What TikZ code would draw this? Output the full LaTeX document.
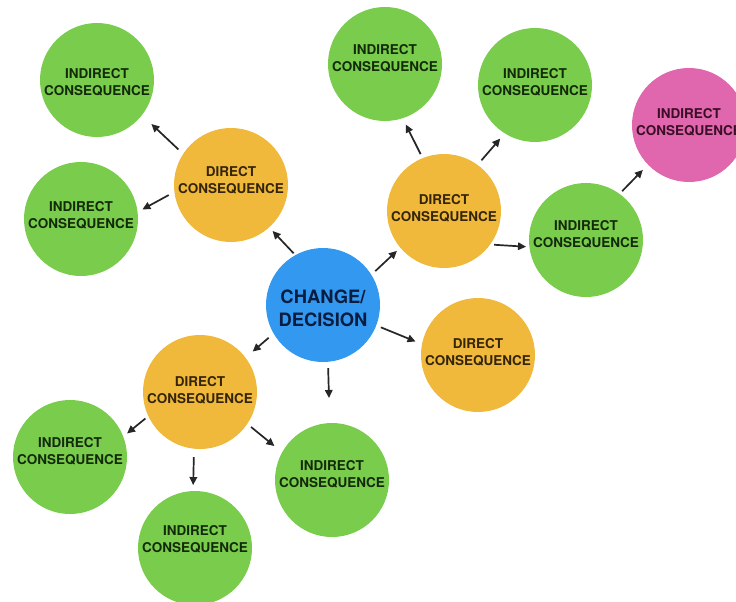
\documentclass[tikz,border=0pt]{standalone}
\usepackage{fontspec}
\newfontfamily\hv{TeX Gyre Heros}
\usetikzlibrary{arrows.meta}
\definecolor{cgreen}{HTML}{7ACC4C}
\definecolor{corange}{HTML}{F0B93B}
\definecolor{cblue}{HTML}{3399F0}
\definecolor{cpink}{HTML}{E066AE}
\definecolor{tgreen}{HTML}{132A0A}
\definecolor{torange}{HTML}{33240A}
\definecolor{tblue}{HTML}{0A1C40}
\definecolor{tpink}{HTML}{3A0F25}
\begin{document}
\begin{tikzpicture}[x=1pt,y=-1pt,
  bubble/.style={circle, minimum size=114pt, inner sep=0pt, outer sep=0pt},
  ind/.style={bubble, fill=cgreen},
  dir/.style={bubble, fill=corange},
  hub/.style={bubble, fill=cblue},
  pnk/.style={bubble, fill=cpink},
  lbl/.style={font=\hv\bfseries\fontsize{13.5}{17}\selectfont, align=center, inner sep=0pt},
  indl/.style={lbl, text=tgreen},
  dirl/.style={lbl, text=torange},
  pnkl/.style={lbl, text=tpink},
  hubl/.style={font=\hv\bfseries\fontsize{18.4}{23}\selectfont, align=center, inner sep=0pt, text=tblue},
  arr/.style={-{Triangle[length=8pt,width=7.5pt]}, line width=1.7pt, draw=black!85}
]
\useasboundingbox (0,0) rectangle (736,602);
\clip (0,0) rectangle (736,602);
\fill[white] (0,0) rectangle (736,602);

% circles
\node[hub] (c)   at (323,305) {};
\node[dir] (dl)  at (231,185) {};
\node[dir] (drt) at (444,211) {};
\node[dir] (dr)  at (478,355) {};
\node[dir] (dbl) at (200,392) {};
\node[ind] (itl) at (97,80)   {};
\node[ind] (il)  at (81,219)  {};
\node[ind] (itm) at (385,64)  {};
\node[ind] (itr) at (535,85)  {};
\node[pnk] (pk)  at (689,125) {};
\node[ind] (ir)  at (586,240) {};
\node[ind] (ibl) at (70,457)  {};
\node[ind] (ib)  at (195,548) {};
\node[ind] (ibr) at (332,480) {};

% texts
\node[hubl] (ct)   at (323,308) {CHANGE/\\DECISION};
\node[dirl] (dlt)  at (231,180) {DIRECT\\CONSEQUENCE};
\node[dirl] (drtt) at (444,208) {DIRECT\\CONSEQUENCE};
\node[dirl] (drt2) at (478,352) {DIRECT\\CONSEQUENCE};
\node[dirl] (dblt) at (200,390) {DIRECT\\CONSEQUENCE};
\node[indl] (itlt) at (97,82)   {INDIRECT\\CONSEQUENCE};
\node[indl] (ilt)  at (81,215)  {INDIRECT\\CONSEQUENCE};
\node[indl] (itmt) at (385,58)  {INDIRECT\\CONSEQUENCE};
\node[indl] (itrt) at (535,82)  {INDIRECT\\CONSEQUENCE};
\node[pnkl] (pkt)  at (689,122) {INDIRECT\\CONSEQUENCE};
\node[indl] (irt)  at (586,234) {INDIRECT\\CONSEQUENCE};
\node[indl] (iblt) at (70,451)  {INDIRECT\\CONSEQUENCE};
\node[indl] (ibt)  at (195,539) {INDIRECT\\CONSEQUENCE};
\node[indl] (ibrt) at (332,474) {INDIRECT\\CONSEQUENCE};

% connectors
\draw[arr, shorten <=2.5pt, shorten >=5pt] (c.119) -- (dl.-48);
\draw[arr, shorten <=6.5pt, shorten >=13pt] (dl.147) -- (itl.-38);
\draw[arr, shorten <=6.5pt, shorten >=5.5pt] (dl.187) -- (il.7);
\draw[arr, shorten <=5.4pt, shorten >=4.7pt] (c.32) -- (drt.220);
\draw[arr, shorten <=4.5pt, shorten >=7pt] (drt.112) -- (itm.-72);
\draw[arr, shorten <=6pt, shorten >=7pt] (drt.54) -- (itr.238);
\draw[arr, shorten <=4pt, shorten >=3.4pt] (drt.-36) -- (ir.187);
\draw[arr, shorten <=3.8pt, shorten >=7.4pt] (ir.54) -- (pk.224);
\draw[arr, shorten <=5pt, shorten >=7pt] (c.-21) -- (dr.169);
\draw[arr, shorten <=6.6pt, shorten >=9.4pt] (c.210) -- (dbl.37);
\coordinate (dn) at (329,398);
\draw[arr, shorten <=6.3pt] (c.-85) -- (dn);
\draw[arr, shorten <=3.8pt, shorten >=5pt] (dbl.205) -- (ibl.21);
\draw[arr, shorten <=8.4pt, shorten >=6pt] (dbl.264) -- (ib.92);
\draw[arr, shorten <=4.9pt, shorten >=10pt] (dbl.-34) -- (ibr.151);
\end{tikzpicture}
\end{document}
